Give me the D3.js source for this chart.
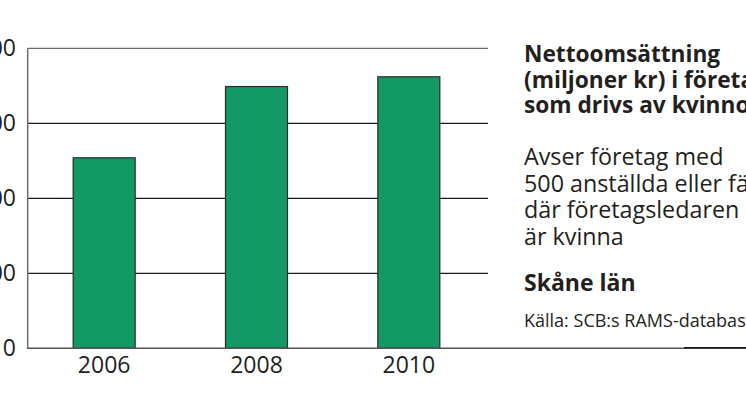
<!DOCTYPE html>
<html>
<head>
<meta charset="utf-8">
<script src="https://cdn.jsdelivr.net/npm/d3@7"></script>
<style>
  html, body { margin: 0; padding: 0; background: #fff; overflow: hidden; }
  svg { display: block; font-family: "Open Sans", sans-serif; }
</style>
</head>
<body>
<div id="chart"></div>
<script>
// ---- data ----
const years = ["2006", "2008", "2010"];
const values = [254, 349, 362];
const yTicks = [0, 100, 200, 300, 400];
const titleLines = ["Nettoomsättning", "(miljoner kr) i företag", "som drivs av kvinnor"];
const noteLines = ["Avser företag med", "500 anställda eller färre", "där företagsledaren", "är kvinna"];
const regionLabel = "Skåne län";
const sourceLabel = "Källa: SCB:s RAMS-databas";

// ---- layout ----
const W = 746, H = 419;
const svg = d3.select("#chart").append("svg").attr("width", W).attr("height", H);

const x = d3.scaleBand().domain(years).range([28, 485]).paddingInner(0.593).paddingOuter(0.2965);
const y = d3.scaleLinear().domain([0, 400]).range([348.3, 48.3]);
const ink = "#231f20";

// gridlines
const grid = svg.append("g");
grid.selectAll("line").data(yTicks.filter(t => t > 0)).join("line")
  .attr("x1", 28).attr("x2", 488)
  .attr("y1", d => y(d)).attr("y2", d => y(d))
  .attr("stroke", d => d === 400 ? "#6d6d6d" : "#1a1a1a")
  .attr("stroke-width", 1.2);

// bars
svg.append("g").selectAll("rect").data(values).join("rect")
  .attr("x", (d, i) => x(years[i]))
  .attr("width", x.bandwidth())
  .attr("y", d => y(d))
  .attr("height", d => y(0) - y(d))
  .attr("fill", "#129966")
  .attr("stroke", "#2a2a2a")
  .attr("stroke-width", 1.2);

// axes lines
svg.append("line").attr("x1", 27.7).attr("x2", 27.7).attr("y1", y(400)).attr("y2", y(0))
  .attr("stroke", "#6d6d6d").attr("stroke-width", 1.5);
svg.append("line").attr("x1", 27).attr("x2", W).attr("y1", y(0)).attr("y2", y(0))
  .attr("stroke", "#555").attr("stroke-width", 1.5);
svg.append("line").attr("x1", 684).attr("x2", W).attr("y1", y(0) - 0.5).attr("y2", y(0) - 0.5)
  .attr("stroke", "#1a1a1a").attr("stroke-width", 1.5);

// y tick labels
const yAxis = d3.axisLeft(y).tickValues(yTicks).tickSize(0).tickPadding(0);
const gy = svg.append("g").attr("transform", "translate(16,0)").call(yAxis);
gy.select(".domain").remove();
gy.selectAll("text").attr("font-size", 23).attr("fill", ink).attr("font-family", "Open Sans, sans-serif");

// x tick labels
const xAxis = d3.axisBottom(x).tickSize(0).tickPadding(0);
const gx = svg.append("g").attr("transform", "translate(0,357)").call(xAxis);
gx.select(".domain").remove();
gx.selectAll("text").attr("font-size", 23).attr("fill", ink).attr("font-family", "Open Sans, sans-serif");

// text block
const tx = 524;
const tb = svg.append("g").attr("fill", ink);
tb.selectAll("text.title").data(titleLines).join("text").attr("class", "title")
  .attr("x", tx).attr("y", (d, i) => 62 + i * 25.5)
  .attr("font-size", 22.7).attr("font-weight", 700).text(d => d);
tb.selectAll("text.note").data(noteLines).join("text").attr("class", "note")
  .attr("x", tx).attr("y", (d, i) => 165 + i * 26.5)
  .attr("font-size", 23.3).text(d => d);
tb.append("text").attr("x", tx).attr("y", 291)
  .attr("font-size", 23).attr("font-weight", 700).text(regionLabel);
tb.append("text").attr("x", tx).attr("y", 327)
  .attr("font-size", 18).text(sourceLabel);
</script>
</body>
</html>
